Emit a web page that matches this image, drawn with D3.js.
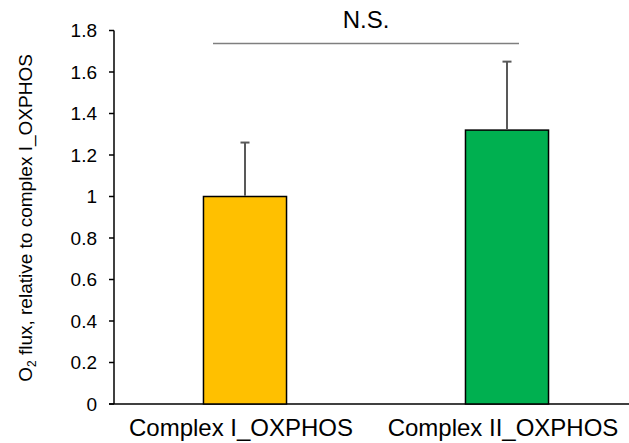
<!DOCTYPE html>
<html lang="en">
<head>
  <meta charset="UTF-8">
  <title>O2 flux bar chart</title>
  <script src="https://d3js.org/d3.v7.min.js"></script>
  <style>
    body, html {
      margin: 0;
      padding: 0;
      background: #fff;
    }
    svg {
      display: block;
      font-family: Arial, "Liberation Sans", sans-serif;
    }
    .tick-label {
      font-size: 19px;
      fill: #000;
    }
    .x-label {
      font-size: 24px;
      fill: #000;
    }
    .y-title {
      font-size: 19px;
      fill: #000;
    }
    .sig {
      font-size: 24px;
      fill: #000;
    }
  </style>
</head>
<body>
  <svg width="629" height="443"></svg>

  <script>
    const categories = ["Complex I_OXPHOS", "Complex II_OXPHOS"];
    const means = [1.0, 1.32];
    const errors = [0.26, 0.33];
    const colors = ["#FFC000", "#00B050"];
    const yTicks = [0, 0.2, 0.4, 0.6, 0.8, 1, 1.2, 1.4, 1.6, 1.8];
    const sigLabel = "N.S.";

    const width = 629;
    const height = 443;
    const plotLeft = 114, plotBottom = 404, plotTop = 30.5;

    const svg = d3.select("svg");

    const x = d3.scaleBand()
      .domain(categories)
      .range([plotLeft, plotLeft + 524])
      .paddingInner(0.683)
      .paddingOuter(0.3415);

    const y = d3.scaleLinear()
      .domain([0, 1.8])
      .range([plotBottom, plotTop]);

    // y axis
    svg.append("line")
      .attr("x1", plotLeft).attr("x2", plotLeft)
      .attr("y1", y(1.8)).attr("y2", y(0))
      .attr("stroke", "#000").attr("stroke-width", 1.5);

    svg.selectAll(".ytick")
      .data(yTicks)
      .enter().append("line")
      .attr("x1", plotLeft - 5).attr("x2", plotLeft)
      .attr("y1", d => y(d)).attr("y2", d => y(d))
      .attr("stroke", "#000").attr("stroke-width", 1.5);

    svg.selectAll(".tick-label")
      .data(yTicks)
      .enter().append("text")
      .attr("class", "tick-label")
      .attr("x", 97)
      .attr("y", d => y(d))
      .attr("dy", "0.35em")
      .attr("text-anchor", "end")
      .text(d => d3.format("~g")(d));

    // x axis
    svg.append("line")
      .attr("x1", plotLeft - 5).attr("x2", width)
      .attr("y1", y(0)).attr("y2", y(0))
      .attr("stroke", "#000").attr("stroke-width", 1.5);

    // bars
    svg.selectAll(".bar")
      .data(categories)
      .enter().append("rect")
      .attr("class", "bar")
      .attr("x", d => x(d))
      .attr("width", x.bandwidth())
      .attr("y", (d, i) => y(means[i]))
      .attr("height", (d, i) => y(0) - y(means[i]))
      .attr("fill", (d, i) => colors[i])
      .attr("stroke", "#000")
      .attr("stroke-width", 1.5);

    // error bars (upper only)
    const cx = d => x(d) + x.bandwidth() / 2;
    svg.selectAll(".err")
      .data(categories)
      .enter().append("line")
      .attr("x1", cx).attr("x2", cx)
      .attr("y1", (d, i) => y(means[i]) - 0.75)
      .attr("y2", (d, i) => y(means[i] + errors[i]))
      .attr("stroke", "#595959").attr("stroke-width", 2);

    svg.selectAll(".cap")
      .data(categories)
      .enter().append("line")
      .attr("x1", d => cx(d) - 4.5).attr("x2", d => cx(d) + 4.5)
      .attr("y1", (d, i) => y(means[i] + errors[i]))
      .attr("y2", (d, i) => y(means[i] + errors[i]))
      .attr("stroke", "#595959").attr("stroke-width", 2);

    // x labels
    svg.selectAll(".x-label")
      .data(categories)
      .enter().append("text")
      .attr("class", "x-label")
      .attr("x", d => cx(d) - 4)
      .attr("y", 436)
      .attr("text-anchor", "middle")
      .text(d => d);

    // significance bracket
    const sx1 = cx(categories[0]) - 32, sx2 = cx(categories[1]) + 12;
    svg.append("line")
      .attr("x1", sx1).attr("x2", sx2)
      .attr("y1", 43.5).attr("y2", 43.5)
      .attr("stroke", "#7f7f7f").attr("stroke-width", 1.5);

    svg.append("text")
      .attr("class", "sig")
      .attr("x", (sx1 + sx2) / 2)
      .attr("y", 28)
      .attr("text-anchor", "middle")
      .text(sigLabel);

    // y title with subscript
    const yt = svg.append("text")
      .attr("class", "y-title")
      .attr("transform", "translate(32,218) rotate(-90)")
      .attr("text-anchor", "middle");
    yt.append("tspan").text("O");
    yt.append("tspan").attr("font-size", "12px").attr("dy", 4).text("2");
    yt.append("tspan").attr("dy", -4).text(" flux, relative to complex I_OXPHOS");
  </script>
</body>
</html>
